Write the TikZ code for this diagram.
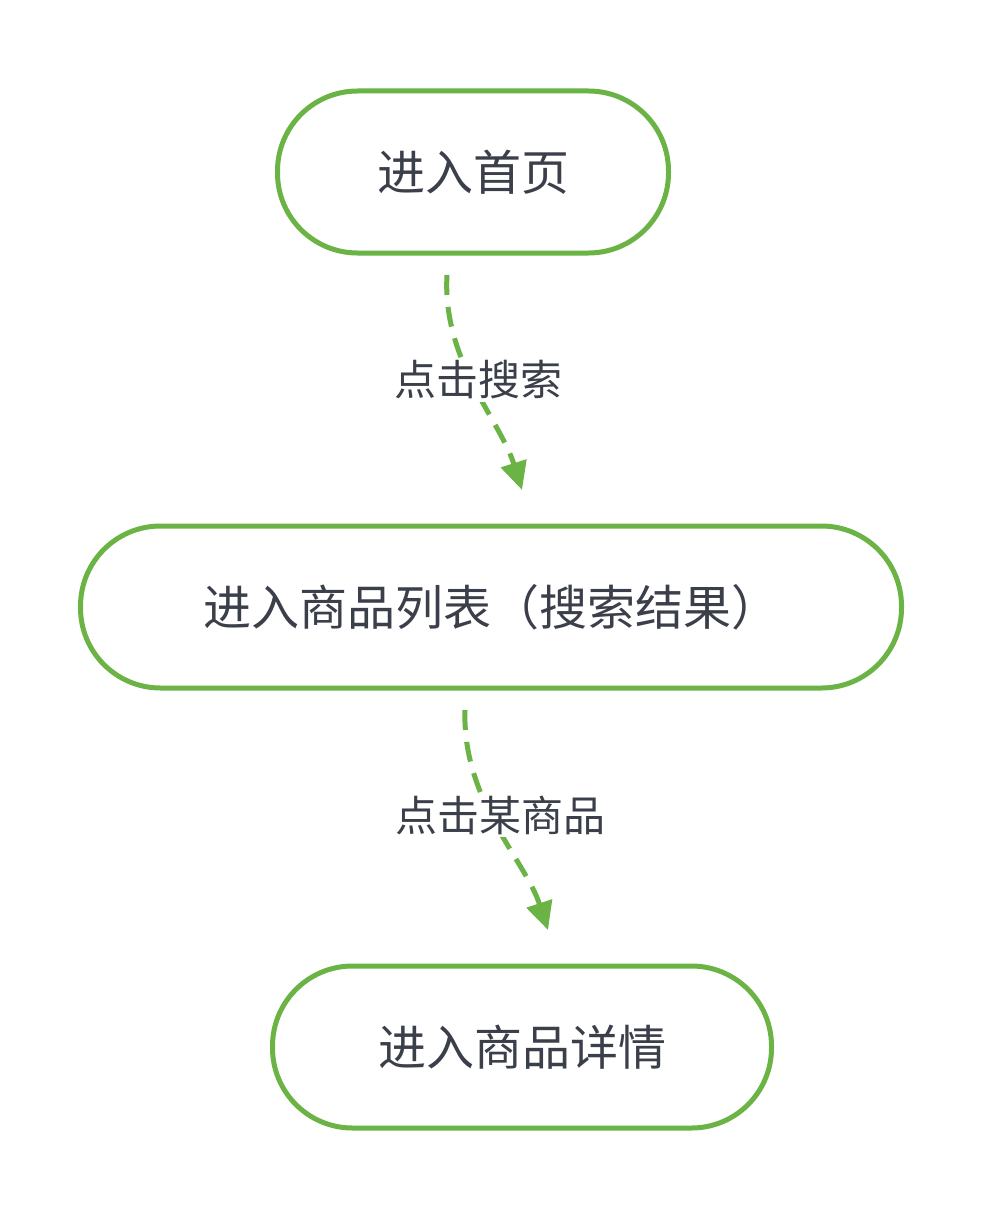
\documentclass[tikz,border=0pt]{standalone}
\usepackage{fontspec}
\setmainfont{Noto Sans CJK SC}
\usetikzlibrary{arrows.meta}
\definecolor{gr}{HTML}{6AB344}
\definecolor{tx}{HTML}{3A3F4A}
\begin{document}
\begin{tikzpicture}[x=1pt,y=-1pt,
  box/.style={draw=gr,line width=5pt,rounded corners=80pt,text=tx,font=\fontsize{48}{56}\selectfont,minimum height=162pt,inner sep=0pt},
  conn/.style={draw=gr,line width=5pt,dash pattern=on 20pt off 12pt,-{Triangle[length=28pt,width=26pt]}},
  lab/.style={fill=white,text=tx,font=\fontsize{42}{50}\selectfont,inner sep=3pt}]
\useasboundingbox (0,0) rectangle (998,1220);
\node[box,minimum width=391pt] (a) at (473,172) {进入首页};
\node[box,minimum width=821pt] (b) at (491,607) {进入商品列表（搜索结果）};
\node[box,minimum width=499pt] (c) at (522,1047) {进入商品详情};
\coordinate (a1) at (447,275);
\coordinate (a2) at (522,490);
\coordinate (b1) at (465,710);
\coordinate (b2) at (548,930);
\draw[conn] (a1) .. controls (442,360) and (500,420) .. (a2);
\draw[conn] (b1) .. controls (462,800) and (525,860) .. (b2);
\node[lab] (l1) at (478,380) {点击搜索};
\node[lab] (l2) at (500,815) {点击某商品};
\end{tikzpicture}
\end{document}
